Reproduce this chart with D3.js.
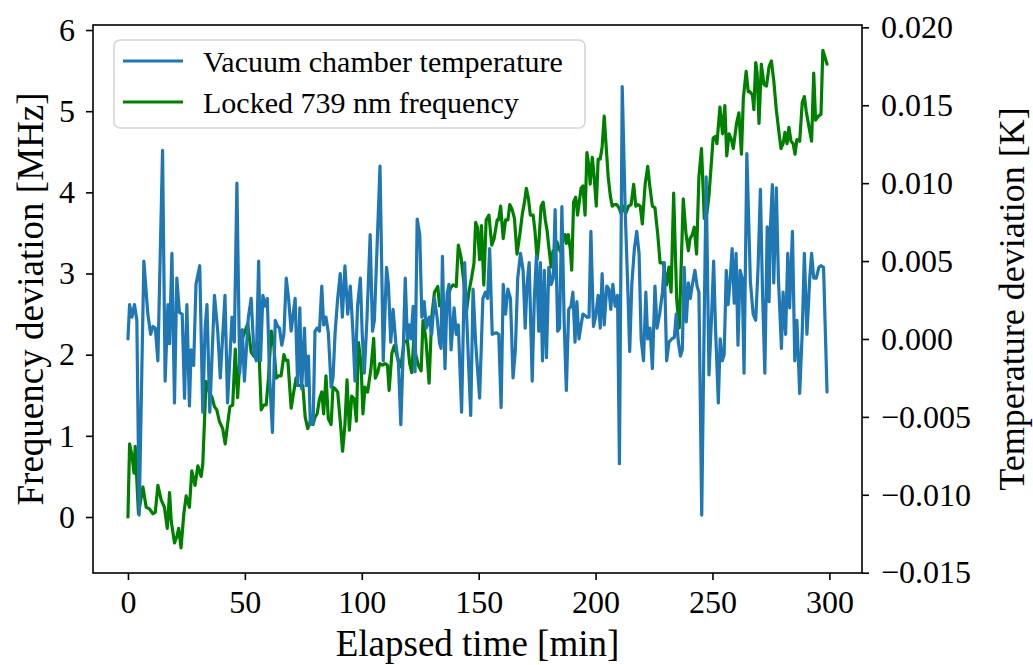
<!DOCTYPE html>
<html>
<head>
<meta charset="utf-8">
<script src="https://cdn.jsdelivr.net/npm/d3@7"></script>
<style>
  body { margin: 0; background: #fff; }
  svg text { font-family: "Liberation Serif", "DejaVu Serif", serif; fill: #000; }
</style>
</head>
<body>
<svg id="chart" width="1033" height="665"></svg>
<script>
// Vacuum chamber temperature deviation (right axis) in mK
var tempTime = [
  0,0.7,1.7,2.8,3.8,4.8,6.8,8.5,9.7,10.7,11.7,12.8,14.8,15.9,17.1,17.8,18.8,19.9,20.9,22.0,
  23.2,24.2,25.2,26.3,27.0,28.1,29.1,30.7,32.0,33.0,33.8,35.0,37.0,38.4,39.5,41.5,42.6,44.5,45.5,46.6,
  47.8,48.9,49.8,51.5,
  52.7,53.9,54.9,55.9,56.7,57.7,58.7,59.6,60.6,61.8,63.0,64.1,64.8,65.8,66.7,67.7,68.7,69.8,71.5,72.6,
  73.5,74.3,75.5,76.3,77.2,78.0,79.2,80.0,80.9,81.9,82.9,83.7,84.7,85.7,86.9,87.7,88.6,89.7,90.8,91.7,
  92.8,94.0,95.1,96.2,97.1,98.2,99.4,100.2,101.1,102.2,103.6,104.6,105.4,
  107.8,109.2,110.6,111.4,112.4,113.4,114.6,115.7,116.7,117.7,118.6,119.5,120.3,121.0,122.0,122.8,123.7,124.8,125.7,126.7,
  127.6,128.8,129.9,131.1,132.2,133.3,133.9,134.5,135.6,136.5,137.3,138.2,139.5,140.4,141.3,142.7,144.0,145.3,146.6,147.6,
  148.7,150.4,151.8,152.9,153.8,154.7,155.8,157.5,
  158.6,159.6,160.5,161.5,162.5,163.6,164.7,165.7,166.7,167.9,169.0,169.9,170.7,171.6,172.9,173.8,174.7,175.7,176.4,177.3,
  178.1,179.0,180.0,181.0,181.9,182.7,183.8,184.6,185.6,186.6,187.5,188.5,189.5,190.3,191.2,192.0,192.9,193.8,194.6,195.5,
  196.3,197.2,198.0,199.1,200.0,201.1,202.0,202.8,203.7,204.8,205.7,206.5,207.4,208.4,209.4,210.2,211.4,
  212.7,213.8,214.6,215.5,216.6,217.6,218.6,219.5,220.5,221.5,222.3,223.3,224.3,225.4,226.3,227.4,228.6,229.4,230.4,231.4,
  232.6,233.7,234.5,235.4,236.3,237.1,237.9,238.8,239.7,240.5,241.4,242.5,243.4,244.2,245.4,246.5,247.3,248.5,249.6,250.5,
  251.3,252.5,253.3,254.2,255.0,255.9,256.7,257.6,258.4,259.3,260.1,260.9,261.8,262.7,263.5,264.7,
  266.2,267.4,268.5,269.5,270.5,271.4,272.4,273.4,274.2,274.8,275.6,276.2,277.3,278.2,279.5,280.2,281.3,282.2,283.0,284.2,
  285.2,286.1,287.3,288.4,289.3,290.4,291.6,292.4,293.3,294.4,295.5,296.4,297.5,299
];
var tempMilliK = [
  0.0,2.2,1.4,2.2,1.2,-11.3,5.0,1.6,0.3,0.8,0.7,-1.4,12.1,-2.7,2.2,-0.3,5.5,-4.1,3.9,1.7,
  1.6,-3.8,2.2,-4.3,-0.7,-1.7,3.5,4.7,-4.7,0.7,2.2,-4.7,2.8,0.5,-2.5,2.8,-4.1,1.4,-0.2,10.0,
  -2.2,0.6,-2.7,1.4,
  2.6,-0.9,-1.4,5.0,-1.4,2.8,2.1,2.6,-2.5,-6.0,1.2,0.8,0.7,-0.4,0.3,3.9,2.6,0.5,2.6,-3.0,
  2.0,-3.2,0.7,-3.0,-1.1,-5.5,-5.4,0.5,0.7,0.5,3.4,0.9,1.4,0.4,-3.1,-2.5,0.4,2.6,4.2,1.4,
  4.7,1.6,3.4,0.5,-2.7,2.1,3.9,0.3,-2.2,1.2,6.7,0.5,1.2,
  11.1,-1.4,4.6,3.5,-0.2,1.9,-0.3,-1.6,-5.5,-0.9,3.9,0.0,0.9,0.0,2.1,-2.1,7.7,6.7,1.4,2.4,
  0.7,1.4,0.3,2.6,1.4,-0.3,-0.6,5.3,-1.9,2.9,3.5,-0.7,2.0,0.3,0.9,-4.7,4.9,-0.2,-4.9,3.2,
  -0.2,-3.8,2.6,3.0,2.6,5.8,0.3,0.4,
  0.3,-4.4,3.5,1.6,3.2,2.6,-2.5,-0.7,3.9,5.5,4.4,0.7,3.5,4.9,-2.7,2.6,5.3,0.5,4.9,-1.4,
  4.4,-1.2,4.6,3.5,3.9,8.3,0.5,0.7,8.5,0.9,-3.3,1.9,2.1,3.0,-0.2,2.4,0.0,0.9,1.6,1.5,
  1.4,1.4,6.9,0.8,1.4,2.8,0.7,4.2,0.9,3.4,3.2,1.9,3.5,2.1,2.8,-8.0,16.2,
  8.1,3.2,-0.8,3.5,5.8,6.9,5.5,0.0,-1.4,3.0,0.0,0.7,-1.9,3.4,0.7,1.6,3.0,4.9,-1.4,-0.2,
  0.0,0.1,1.6,-0.2,-1.1,-0.7,4.6,1.1,3.6,2.6,3.5,4.4,3.4,3.0,-11.3,1.6,10.4,-2.3,1.4,5.0,
  0.7,-4.1,0.0,-1.4,-1.0,4.4,2.2,3.9,5.8,2.3,5.5,-0.4,4.4,3.9,-2.2,11.9,
  3.7,1.6,1.2,4.6,9.6,3.0,-2.2,7.2,2.4,7.2,9.9,3.6,9.7,3.9,-0.6,3.0,0.3,5.5,2.0,6.9,
  -1.4,1.2,-3.5,0.5,5.5,0.3,3.9,5.5,3.9,3.9,4.6,4.7,4.6,-3.4
];

// Locked 739 nm laser frequency deviation (left axis), MHz
var freqTime = [
  0,0.7,1.7,2.6,3.1,4.5,6.4,7.8,9.2,10.7,11.7,12.8,14.2,15.6,16.8,17.8,18.5,19.9,21.0,21.7,
  22.7,23.9,24.9,26.3,27.3,28.7,29.9,31.3,32.0,33.4,34.8,36.0,37.0,38.0,39.1,40.5,41.6,42.6,43.6,44.8,
  45.9,46.9,48.3,51.2,
  52.7,53.9,54.9,55.9,57.0,58.1,59.1,60.1,61.3,62.4,63.4,64.4,65.5,66.7,67.5,68.4,69.8,70.9,71.9,72.6,
  73.8,74.8,75.8,76.9,78.0,79.2,80.0,80.9,81.9,82.9,83.7,84.7,85.7,86.9,87.7,88.6,89.7,90.8,91.8,92.8,
  93.7,94.7,95.7,96.8,97.7,98.6,99.7,100.5,101.4,102.5,103.9,105.1,
  105.8,106.8,107.7,108.9,110.0,111.0,111.7,112.9,113.9,115.3,116.7,118.1,119.5,120.5,121.4,122.4,123.1,124.2,125.4,126.2,
  127.4,128.8,129.9,131.1,132.5,133.3,134.5,135.6,137.0,138.0,139.0,140.4,141.3,142.4,143.6,144.7,145.8,147.0,148.0,148.7,
  149.5,150.4,151.2,152.2,153.2,154.4,155.6,156.6,157.9,
  158.5,159.4,160.5,161.5,162.5,163.3,164.3,165.3,166.4,167.6,168.7,169.6,170.4,171.3,172.1,173.3,174.1,175.0,175.8,176.7,
  177.6,178.5,179.3,180.1,181.0,181.8,182.7,183.5,184.4,185.2,186.1,186.9,187.5,188.3,189.2,189.8,190.6,191.5,192.3,193.2,
  193.8,194.6,195.5,196.3,197.2,197.7,198.6,199.4,200.3,201.1,202.0,202.8,203.7,204.5,205.4,206.3,207.1,208.0,209.1,210.0,
  210.9,211.9,212.9,214.1,215.2,216.3,217.2,218.1,219.1,220.0,221.2,222.3,223.3,224.3,225.4,226.6,227.6,229.0,230.4,231.4,
  232.3,233.4,234.7,235.8,237.5,238.7,239.7,240.4,241.4,242.2,243.2,244.2,245.3,246.5,247.6,248.5,250.3,251.3,251.9,253.2,
  254.3,255.3,256.1,257.1,258.1,258.9,260.3,261.3,262.4,263.2,264.4,265.3,
  266.0,267.1,267.7,268.5,269.1,269.9,270.9,272.0,273.1,274.2,275.2,276.2,277.3,278.5,279.3,280.2,281.0,281.9,282.7,283.6,
  284.5,285.3,286.1,287.3,288.4,289.3,290.1,291.3,292.4,293.3,294.1,295.3,296.4,297.2,299
];
var freqMHz = [
  0.0,0.90,0.76,0.54,0.87,0.04,0.37,0.12,0.10,0.04,0.06,0.39,0.21,0.12,-0.14,0.30,-0.05,-0.32,-0.23,-0.14,
  -0.38,0.04,0.26,0.12,0.57,0.39,0.63,0.50,0.65,1.67,1.54,1.47,1.36,1.32,1.18,1.09,0.90,1.14,1.36,1.38,
  2.07,1.47,2.15,2.38,
  2.03,1.98,2.07,2.15,1.32,1.38,1.38,1.71,2.29,2.11,1.71,1.74,1.74,2.00,1.93,1.93,1.34,1.54,1.71,1.62,
  1.62,1.62,1.23,1.09,1.18,1.14,1.23,1.27,1.45,1.54,1.27,1.74,1.21,1.14,1.60,1.58,1.54,1.18,0.81,1.14,
  1.69,1.07,1.49,1.45,1.18,2.15,1.89,1.27,1.60,1.54,1.82,2.20,
  1.71,1.78,1.89,1.87,1.89,1.87,1.56,2.02,2.11,1.96,1.85,2.15,2.18,1.89,1.78,2.26,2.00,1.87,1.80,2.42,
  2.20,1.65,2.46,2.77,2.84,2.60,2.68,2.51,2.73,2.82,2.86,2.84,3.35,3.21,2.91,2.51,2.77,2.95,3.13,3.63,
  3.57,3.17,3.59,2.86,3.66,3.72,3.35,3.43,3.66,
  3.66,3.83,3.43,3.66,3.66,3.85,3.79,3.68,3.24,3.48,3.74,3.88,4.05,3.92,3.72,3.72,3.52,3.17,3.41,3.83,
  3.88,3.66,3.52,3.30,3.08,3.28,3.21,3.39,3.30,3.26,3.43,3.48,3.37,3.48,3.30,3.04,3.88,3.94,3.72,3.92,
  4.05,4.08,3.72,4.49,4.32,4.10,4.43,4.19,3.83,4.41,4.41,4.56,4.94,4.58,4.19,3.96,3.83,3.85,3.85,3.81,
  3.74,3.83,3.74,3.83,3.85,4.10,3.83,3.85,3.83,3.61,4.10,4.32,4.05,3.83,3.81,3.48,3.13,3.13,2.86,3.08,
  2.77,3.99,2.68,2.33,3.92,3.48,3.28,3.43,3.48,3.57,3.24,4.19,4.54,3.68,3.74,3.96,4.67,4.69,4.60,5.05,
  4.72,5.07,4.45,4.72,4.65,4.54,4.85,4.98,4.47,5.16,5.49,5.24,
  5.24,5.20,5.02,5.60,5.47,4.85,5.58,5.33,5.31,5.55,5.62,5.38,5.02,4.72,4.54,4.60,4.74,4.60,4.80,4.63,
  4.60,4.47,4.65,4.63,5.11,5.18,5.00,4.80,4.63,5.47,4.89,4.94,4.96,5.75,5.58
];

var xTicks = [0, 50, 100, 150, 200, 250, 300];
var freqTicks = [0, 1, 2, 3, 4, 5, 6];
var tempTicks = [-0.015, -0.010, -0.005, 0.000, 0.005, 0.010, 0.015, 0.020];

var seriesNames = ["Vacuum chamber temperature", "Locked 739 nm frequency"];
var seriesColors = ["#1f77b4", "#008000"];

///////////////////////////////////////////////////////////////////////////////
// Layout (note: "top" is taken by window.top, hence the plot* names)

var plotLeft = 93, plotRight = 862, plotTop = 25, plotBottom = 573;
var svg = d3.select("#chart");

var x = d3.scaleLinear().domain([-14.95, 313.95]).range([plotLeft, plotRight]);
var yFreq = d3.scaleLinear().domain([-0.69, 6.062]).range([plotBottom, plotTop]);
var yTemp = d3.scaleLinear().domain([-0.01502, 0.02015]).range([plotBottom, plotTop]);

var tempPoints = tempTime.map(function (t, i) { return [t, tempMilliK[i] / 1000]; });
var freqPoints = freqTime.map(function (t, i) { return [t, freqMHz[i]]; });

///////////////////////////////////////////////////////////////////////////////
// Lines

var freqLine = d3.line()
  .x(function (d) { return x(d[0]); })
  .y(function (d) { return yFreq(d[1]); });
var tempLine = d3.line()
  .x(function (d) { return x(d[0]); })
  .y(function (d) { return yTemp(d[1]); });

svg.append("path")
  .datum(freqPoints)
  .attr("d", freqLine)
  .attr("fill", "none")
  .attr("stroke", seriesColors[1])
  .attr("stroke-width", 3.2)
  .attr("stroke-linejoin", "round")
  .attr("stroke-linecap", "round");

svg.append("path")
  .datum(tempPoints)
  .attr("d", tempLine)
  .attr("fill", "none")
  .attr("stroke", seriesColors[0])
  .attr("stroke-width", 3.2)
  .attr("stroke-linejoin", "round")
  .attr("stroke-linecap", "round");

///////////////////////////////////////////////////////////////////////////////
// Axes

var styleAxis = function (g, size) {
  g.select(".domain").remove();
  g.selectAll(".tick line").attr("stroke", "#000").attr("stroke-width", 1.6);
  g.selectAll(".tick text").style("font-size", size + "px");
};

svg.append("g")
  .attr("transform", "translate(0," + plotBottom + ")")
  .call(d3.axisBottom(x).tickValues(xTicks).tickSize(7).tickPadding(10)
    .tickFormat(d3.format("d")))
  .call(styleAxis, 32);

svg.append("g")
  .attr("transform", "translate(" + plotLeft + ",0)")
  .call(d3.axisLeft(yFreq).tickValues(freqTicks).tickSize(7).tickPadding(11)
    .tickFormat(d3.format("d")))
  .call(styleAxis, 32);

svg.append("g")
  .attr("transform", "translate(" + plotRight + ",0)")
  .call(d3.axisRight(yTemp).tickValues(tempTicks).tickSize(7).tickPadding(12)
    .tickFormat(d3.format(".3f")))
  .call(styleAxis, 32);

svg.append("rect")
  .attr("x", plotLeft).attr("y", plotTop)
  .attr("width", plotRight - plotLeft).attr("height", plotBottom - plotTop)
  .attr("fill", "none")
  .attr("stroke", "#000")
  .attr("stroke-width", 1.6);

svg.append("text")
  .attr("x", (plotLeft + plotRight) / 2).attr("y", 656)
  .attr("text-anchor", "middle")
  .style("font-size", "37px")
  .text("Elapsed time [min]");

svg.append("text")
  .attr("transform", "translate(43," + (plotTop + plotBottom) / 2 + ") rotate(-90)")
  .attr("text-anchor", "middle")
  .style("font-size", "37px")
  .text("Frequency deviation [MHz]");

svg.append("text")
  .attr("transform", "translate(1024," + (plotTop + plotBottom) / 2 + ") rotate(-90)")
  .attr("text-anchor", "middle")
  .style("font-size", "36px")
  .text("Temperature deviation [K]");

///////////////////////////////////////////////////////////////////////////////
// Legend

var legend = svg.append("g");
legend.append("rect")
  .attr("x", 114).attr("y", 40)
  .attr("width", 471).attr("height", 88)
  .attr("rx", 6).attr("ry", 6)
  .attr("fill", "#fff").attr("fill-opacity", 0.8)
  .attr("stroke", "#d6d6d6").attr("stroke-width", 1.6);

var rows = legend.selectAll("g.row")
  .data(seriesNames)
  .enter().append("g")
  .attr("class", "row")
  .attr("transform", function (d, i) { return "translate(0," + (61 + i * 41) + ")"; });

rows.append("line")
  .attr("x1", 123).attr("x2", 183)
  .attr("stroke", function (d, i) { return seriesColors[i]; })
  .attr("stroke-width", 3.2);

rows.append("text")
  .attr("x", 203).attr("y", 11)
  .style("font-size", "30px")
  .text(function (d) { return d; });
</script>
</body>
</html>
